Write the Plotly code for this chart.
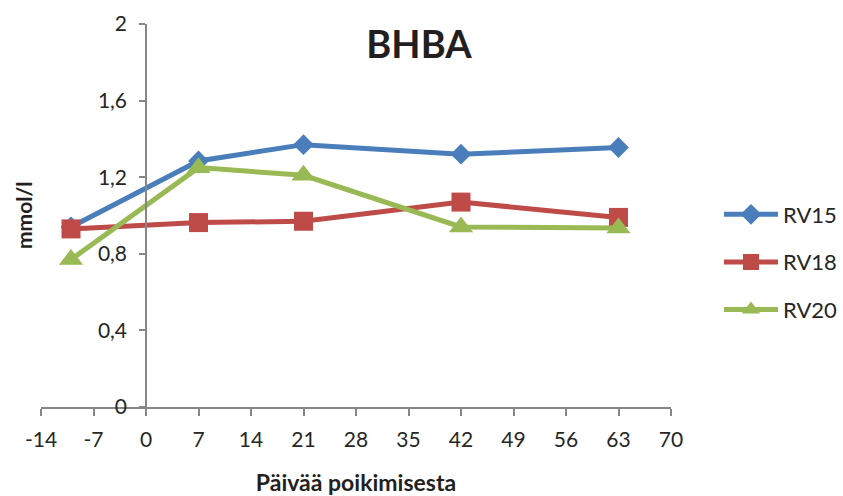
import plotly.graph_objects as go

# Days relative to calving
days = [-10, 7, 21, 42, 63]

# BHBA concentrations (mmol/l)
rv15 = [0.94, 1.285, 1.37, 1.32, 1.355]
rv18 = [0.93, 0.963, 0.97, 1.07, 0.99]
rv20 = [0.77, 1.25, 1.21, 0.94, 0.935]

x_ticks = [-14, -7, 0, 7, 14, 21, 28, 35, 42, 49, 56, 63, 70]
x_tick_text = ["-14", "-7", "0", "7", "14", "21", "28", "35", "42", "49", "56", "63", "70"]
y_ticks = [0, 0.4, 0.8, 1.2, 1.6, 2.0]
y_tick_text = ["0", "0,4", "0,8", "1,2", "1,6", "2"]

FONT = "Lato"
AXIS_COLOR = "#868686"
TEXT_COLOR = "#262626"

series = [
    ("RV15", rv15, "#4A7EBB", "diamond", 16),
    ("RV18", rv18, "#BE4B48", "square", 19),
    ("RV20", rv20, "#98B954", "triangle-up", 21),
]

fig = go.Figure()
for name, vals, color, symbol, msize in series:
    fig.add_trace(go.Scatter(
        x=days, y=vals, name=name, mode="lines+markers",
        line=dict(color=color, width=5),
        marker=dict(symbol=symbol, size=msize, color=color),
        legendgroup=name,
    ))

fig.update_layout(
    width=843, height=496,
    margin=dict(l=41, r=172, t=24, b=89, autoexpand=False),
    paper_bgcolor="white", plot_bgcolor="white",
    separators=", ",
    font=dict(family=FONT, color=TEXT_COLOR, size=21),
    title=dict(text="<b>BHBA</b>", x=0.497, xanchor="center", y=0.91, yanchor="middle",
               font=dict(family=FONT, size=38, color="#231F20")),
    showlegend=True,
    legend=dict(xref="container", yref="container", x=719 / 843, y=(496 - 262) / 496,
                xanchor="left", yanchor="middle",
                font=dict(family=FONT, size=22, color=TEXT_COLOR),
                tracegroupgap=16, traceorder="grouped",
                bgcolor="rgba(0,0,0,0)", itemwidth=54),
    xaxis=dict(
        range=[-14, 70], tickvals=x_ticks, ticktext=x_tick_text,
        ticks="outside", ticklen=7, ticklabelstandoff=6,
        tickcolor=AXIS_COLOR, tickwidth=1.5,
        showline=True, linecolor=AXIS_COLOR, linewidth=1.5,
        showgrid=False, zeroline=False,
        tickfont=dict(family=FONT, size=21, color=TEXT_COLOR),
        title=dict(text="<b>Päivää poikimisesta</b>", standoff=26,
                   font=dict(family=FONT, size=23, color="#231F20")),
    ),
    yaxis=dict(
        range=[0, 2], tickvals=y_ticks, ticktext=y_tick_text,
        anchor="free", position=14 / 84, ticks="outside", ticklen=6,
        ticklabelstandoff=8,
        tickcolor=AXIS_COLOR, tickwidth=1.5,
        showline=True, linecolor=AXIS_COLOR, linewidth=1.5,
        showgrid=False, zeroline=False,
        tickfont=dict(family=FONT, size=21, color=TEXT_COLOR),
    ),
)

# Y-axis title sits at the far left of the figure
fig.add_annotation(
    text="<b>mmol/l</b>", xref="paper", yref="paper",
    x=(23 - 41) / 630, y=(407 - 216) / 383, xanchor="center", yanchor="middle",
    textangle=-90, showarrow=False,
    font=dict(family=FONT, size=21, color="#231F20"),
)

fig.write_html("out.html")
